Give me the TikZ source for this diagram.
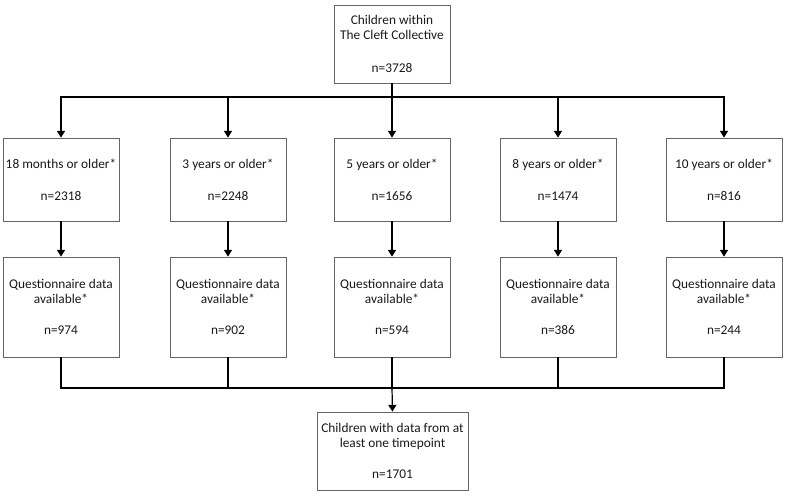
\documentclass[tikz,border=0pt]{standalone}
\usepackage{fontspec}
\setmainfont{Carlito}
\usetikzlibrary{arrows.meta}
\begin{document}
\begin{tikzpicture}[x=0.75pt,y=-0.75pt,
  box/.style={draw=black!60, line width=0.6pt, align=center, inner sep=0pt,
    font=\fontsize{10pt}{11pt}\selectfont, text=black!90},
  conn/.style={line width=0.9pt, black},
  arr/.style={conn, -{Triangle[width=6pt,length=5pt]}}]
\useasboundingbox (0,0) rectangle (790,498);
\node[box, minimum width=87pt, minimum height=58.5pt] (top) at (392,44)
  {Children within\\The Cleft Collective\\[13.5pt]n=3728};
\foreach \i/\x/\a/\n/\m in {1/61/18 months or older*/2318/974,
                            2/228/3 years or older*/2248/902,
                            3/392/5 years or older*/1656/594,
                            4/558/8 years or older*/1474/386,
                            5/724/10 years or older*/816/244}{
  \node[box, minimum width=87pt, minimum height=62.25pt] (ra\i) at (\x,179.5)
    {\a\\[13pt]n=\n};
  \node[box, minimum width=87pt, minimum height=75pt] (rb\i) at (\x,307)
    {Questionnaire data\\available*\\[12.5pt]n=\m};
  \coordinate (u\i) at (\x,97);
  \coordinate (d\i) at (\x,388);
  \draw[arr] (u\i) -- (ra\i.north);
  \draw[arr] (ra\i.south) -- (rb\i.north);
  \draw[conn] (rb\i.south) -- (d\i);
}
\node[box, minimum width=113.25pt, minimum height=58.5pt] (bot) at (392.5,451)
  {Children with data from at\\least one timepoint\\[12.5pt]n=1701};
\draw[conn, line cap=rect] (u1) -- (u5);
\draw[conn] (top.south) -- (u3);
\draw[conn, line cap=rect] (d1) -- (d5);
\draw[arr] (d3) -- (bot.north);
\end{tikzpicture}
\end{document}
